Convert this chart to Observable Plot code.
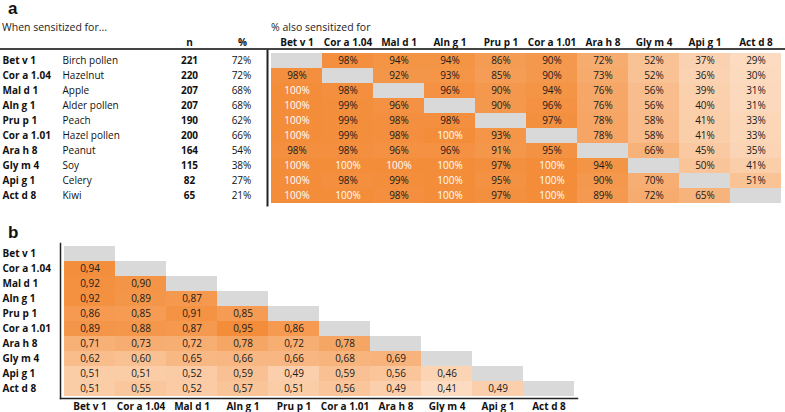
<!DOCTYPE html>
<html>
<head>
<meta charset="utf-8">
<script src="https://cdn.jsdelivr.net/npm/d3@7"></script>
<script src="https://cdn.jsdelivr.net/npm/@observablehq/plot@0.6"></script>
<style>
  body { margin: 0; background: #fff; font-family: "Open Sans", sans-serif; }
  #wrap { position: relative; width: 785px; height: 412px; overflow: hidden; }
  .abs { position: absolute; white-space: nowrap; }
  .panel { font-family: "Liberation Sans", Arial, sans-serif; font-weight: bold; font-size: 17px; line-height: 1; color: #111; }
  .sub { font-size: 10.5px; line-height: 13px; color: #222; }
</style>
</head>
<body>
<div id="wrap">
  <div class="abs" style="left:0;top:48px;width:785px;height:2px;background:#444"></div>
  <div id="pa" class="abs" style="left:0;top:0"></div>
  <div id="pb" class="abs" style="left:0;top:230px"></div>
  <div class="abs panel" style="left:8px;top:0px">a</div>
  <div class="abs sub" style="left:2px;top:21px">When sensitized for...</div>
  <div class="abs sub" style="left:271px;top:21px">% also sensitized for</div>
  <div class="abs panel" style="left:8px;top:224px">b</div>
</div>
<script>
const codes = ["Bet v 1","Cor a 1.04","Mal d 1","Aln g 1","Pru p 1","Cor a 1.01","Ara h 8","Gly m 4","Api g 1","Act d 8"];
const names = ["Birch pollen","Hazelnut","Apple","Alder pollen","Peach","Hazel pollen","Peanut","Soy","Celery","Kiwi"];
const nValues = [221,220,207,207,190,200,164,115,82,65];
const pctValues = [72,72,68,68,62,66,54,38,27,21];

// Panel a: % also sensitized for (row = sensitized for, column = also sensitized for)
const alsoPct = [
  [null,98,94,94,86,90,72,52,37,29],
  [98,null,92,93,85,90,73,52,36,30],
  [100,98,null,96,90,94,76,56,39,31],
  [100,99,96,null,90,96,76,56,40,31],
  [100,99,98,98,null,97,78,58,41,33],
  [100,99,98,100,93,null,78,58,41,33],
  [98,98,96,96,91,95,null,66,45,35],
  [100,100,100,100,97,100,94,null,50,41],
  [100,98,99,100,95,100,90,70,null,51],
  [100,100,98,100,97,100,89,72,65,null]
];

// Panel b: correlation (lower triangle)
const corr = [
  [],
  [0.94],
  [0.92,0.90],
  [0.92,0.89,0.87],
  [0.86,0.85,0.91,0.85],
  [0.89,0.88,0.87,0.95,0.86],
  [0.71,0.73,0.72,0.78,0.72,0.78],
  [0.62,0.60,0.65,0.66,0.66,0.68,0.69],
  [0.51,0.51,0.52,0.59,0.49,0.59,0.56,0.46],
  [0.51,0.55,0.52,0.57,0.51,0.56,0.49,0.41,0.49]
];

const light = "#fcdbc0", dark = "#f38d3a", gray = "#d9d9d9";

const rowsA = codes.map((c, i) => ({code: c, name: names[i], n: nValues[i], pct: pctValues[i]}));
const cellsA = [];
alsoPct.forEach((r, i) => r.forEach((v, j) => { if (v != null) cellsA.push({row: codes[i], col: codes[j], v}); }));
const diag = codes.map(c => ({row: c, col: c}));

const fontStyle = {fontFamily: "'Open Sans', sans-serif", fontSize: "10px", color: "#111", background: "transparent"};

const plotA = Plot.plot({
  width: 785, height: 208,
  marginTop: 50, marginBottom: 3, marginLeft: 267, marginRight: 0,
  x: {domain: codes, axis: null, padding: 0},
  y: {domain: codes, axis: null, padding: 0},
  color: {type: "linear", domain: [29, 100], range: [light, dark]},
  style: fontStyle,
  marks: [
    Plot.cell(diag, {x: "col", y: "row", fill: gray}),
    Plot.cell(cellsA, {x: "col", y: "row", fill: "v"}),
    Plot.text(cellsA.filter(d => d.v === 100), {x: "col", y: "row", text: d => d.v + "%", fill: "white"}),
    Plot.text(cellsA.filter(d => d.v !== 100), {x: "col", y: "row", text: d => d.v + "%", fill: "#1a1a1a"}),
    Plot.axisX({anchor: "top", tickSize: 0, tickPadding: 5, fontWeight: "bold", label: null}),
    Plot.text(rowsA, {y: "code", text: "code", frameAnchor: "left", textAnchor: "start", dx: -265, fontWeight: "bold"}),
    Plot.text(rowsA, {y: "code", text: "name", frameAnchor: "left", textAnchor: "start", dx: -205}),
    Plot.text(rowsA, {y: "code", text: "n", frameAnchor: "left", textAnchor: "middle", dx: -78, fontWeight: "bold"}),
    Plot.text(rowsA, {y: "code", text: d => d.pct + "%", frameAnchor: "left", textAnchor: "middle", dx: -26}),
    Plot.text(["n"], {text: d => d, frameAnchor: "top-left", textAnchor: "middle", lineAnchor: "bottom", dx: -78, dy: -5, fontWeight: "bold"}),
    Plot.text(["%"], {text: d => d, frameAnchor: "top-left", textAnchor: "middle", lineAnchor: "bottom", dx: -25, dy: -5, fontWeight: "bold"}),
    Plot.frame({anchor: "left", stroke: "#222", strokeWidth: 2})
  ]
});
document.getElementById("pa").appendChild(plotA);

const cellsB = [];
corr.forEach((r, i) => r.forEach((v, j) => cellsB.push({row: codes[i], col: codes[j], v})));

const plotB = Plot.plot({
  width: 785, height: 182,
  marginTop: 13, marginBottom: 14, marginLeft: 60, marginRight: 208,
  x: {domain: codes, axis: null, padding: 0},
  y: {domain: codes, axis: null, padding: 0},
  color: {type: "linear", domain: [0.41, 0.95], range: [light, dark]},
  style: fontStyle,
  marks: [
    Plot.cell(diag, {x: "col", y: "row", fill: gray}),
    Plot.cell(cellsB, {x: "col", y: "row", fill: "v"}),
    Plot.text(cellsB, {x: "col", y: "row", text: d => d.v.toFixed(2).replace(".", ","), fill: "#1a1a1a"}),
    Plot.axisX({anchor: "bottom", tickSize: 0, tickPadding: 4, fontWeight: "bold", label: null}),
    Plot.text(codes, {y: d => d, text: d => d, frameAnchor: "left", textAnchor: "start", dx: -58, fontWeight: "bold"}),
    Plot.frame({anchor: "left", stroke: "#222", strokeWidth: 1.5}),
    Plot.frame({anchor: "bottom", stroke: "#222", strokeWidth: 1.5})
  ]
});
document.getElementById("pb").appendChild(plotB);
</script>
</body>
</html>
